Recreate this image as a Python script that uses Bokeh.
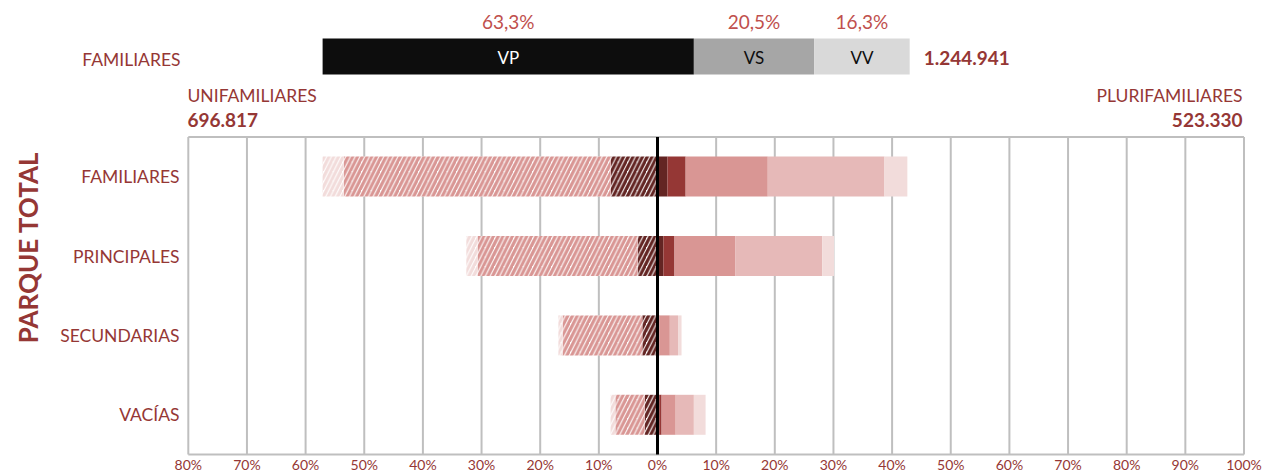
import numpy as np
from bokeh.plotting import figure
from bokeh.core.properties import value
from bokeh.embed import file_html
from bokeh.resources import INLINE

# ---------------- data ----------------
categories = ["FAMILIARES", "PRINCIPALES", "SECUNDARIAS", "VACÍAS"]

# Unifamiliares (left side, % of familiares total), from the zero line outwards
uni_dark = [8.0, 3.4, 2.6, 2.2]
uni_mid = [45.5, 27.3, 13.6, 5.0]
uni_light = [3.6, 1.9, 0.7, 0.8]

# Plurifamiliares (right side), from the zero line outwards
pluri_s1 = [1.7, 1.0, 0.0, 0.3]
pluri_s2 = [3.1, 1.9, 0.3, 0.4]
pluri_s3 = [14.0, 10.4, 1.8, 2.4]
pluri_s4 = [19.9, 14.8, 1.4, 3.1]
pluri_s5 = [3.9, 2.0, 0.6, 2.0]

top_labels = ["VP", "VS", "VV"]
top_shares = [63.3, 20.5, 16.3]
top_share_text = ["63,3%", "20,5%", "16,3%"]
total_familiares = "1.244.941"
total_uni = "696.817"
total_pluri = "523.330"

tick_values = list(range(-80, 101, 10))
tick_labels = [f"{abs(t)}%" for t in tick_values]

# ---------------- layout ----------------
W, H = 1268, 472
PX_PER_PCT = 5.865
ZERO_PX = 657
ROW_PX = 79.4
FRAME_BOTTOM_PX = 454
x0 = -ZERO_PX / PX_PER_PCT
x1 = x0 + W / PX_PER_PCT
y0 = -0.5 - (H - FRAME_BOTTOM_PX) / ROW_PX
y1 = y0 + H / ROW_PX


def dx(px):
    return x0 + px / PX_PER_PCT


def dy(py):
    return y1 - py / ROW_PX


RED = "#953735"
LIGHT_RED = "#c0504d"
FONT = value("Lato")
LBL = "17.5px"
NUM = "19px"

p = figure(width=W, height=H, x_range=(x0, x1), y_range=(y0, y1),
           output_backend="svg", toolbar_location=None,
           x_axis_location=None, y_axis_location=None,
           min_border_left=0, min_border_right=0, min_border_top=0,
           min_border_bottom=0)
p.outline_line_color = None
p.grid.visible = False
p.background_fill_color = "white"

n = len(categories)
ys = [n - 1 - i for i in range(n)]
bar_h = 40 / ROW_PX

# grid lines and frame
p.segment(x0=tick_values, y0=[-0.5] * len(tick_values), x1=tick_values,
          y1=[n - 0.5] * len(tick_values), line_color="#bfbfbf", line_width=2)
p.segment(x0=[-80, -80], y0=[-0.5, n - 0.5], x1=[100, 100], y1=[-0.5, n - 0.5],
          line_color="#bfbfbf", line_width=2)

# x tick labels (absolute percentages on both sides of zero)
p.text(x=tick_values, y=[dy(464)] * len(tick_values), text=tick_labels,
       text_color=RED, text_font=FONT, text_font_size="14px",
       text_align="center", text_baseline="middle")

# left stacked (hatched)
left_series = [(uni_dark, "#632523"), (uni_mid, "#d99694"), (uni_light, "#f2dcdb")]
cum = np.zeros(n)
for vals, col in left_series:
    v = np.array(vals)
    p.hbar(y=ys, left=-(cum + v), right=-cum, height=bar_h, fill_color="white",
           line_color=None, hatch_pattern="/", hatch_color=col,
           hatch_weight=3.2, hatch_scale=9.5)
    cum = cum + v
uni_total_fam = cum[0]

# right stacked
right_series = [(pluri_s1, "#632523"), (pluri_s2, "#953735"), (pluri_s3, "#d99694"),
                (pluri_s4, "#e6b9b8"), (pluri_s5, "#f2dcdb")]
cum = np.zeros(n)
for vals, col in right_series:
    v = np.array(vals)
    p.hbar(y=ys, left=cum, right=cum + v, height=bar_h, fill_color=col, line_color=None)
    cum = cum + v

# zero line
p.segment(x0=[0], y0=[-0.5], x1=[0], y1=[n - 0.5], line_color="black", line_width=3)

# top composition bar
ty = dy(56)
starts = -uni_total_fam + np.concatenate([[0], np.cumsum(top_shares)[:-1]])
ends = starts + np.array(top_shares)
mids = (starts + ends) / 2
p.hbar(y=[ty] * 3, left=starts, right=ends, height=36 / ROW_PX,
       fill_color=["#0d0d0d", "#a6a6a6", "#d9d9d9"], line_color=None)
p.text(x=mids, y=[dy(57)] * 3, text=top_labels, text_color=["white", "#0d0d0d", "#0d0d0d"],
       text_font=FONT, text_font_size="17px", text_align="center", text_baseline="middle")
p.text(x=mids, y=[dy(21)] * 3, text=top_share_text, text_color=LIGHT_RED,
       text_font=FONT, text_font_size="19px", text_align="center", text_baseline="middle")
p.text(x=[ends[-1] + 14 / PX_PER_PCT], y=[dy(57)], text=[total_familiares], text_color=RED,
       text_font=FONT, text_font_size=NUM, text_font_style="bold",
       text_align="left", text_baseline="middle")
p.text(x=[dx(180)], y=[dy(59)], text=["FAMILIARES"], text_color=RED, text_font=FONT,
       text_font_size=LBL, text_align="right", text_baseline="middle")

# side headers
p.text(x=[dx(187)], y=[dy(95)], text=["UNIFAMILIARES"], text_color=RED, text_font=FONT,
       text_font_size=LBL, text_align="left", text_baseline="middle")
p.text(x=[dx(187)], y=[dy(119)], text=[total_uni], text_color=RED, text_font=FONT,
       text_font_size=NUM, text_font_style="bold", text_align="left", text_baseline="middle")
p.text(x=[dx(1242)], y=[dy(95)], text=["PLURIFAMILIARES"], text_color=RED, text_font=FONT,
       text_font_size=LBL, text_align="right", text_baseline="middle")
p.text(x=[dx(1242)], y=[dy(119)], text=[total_pluri], text_color=RED, text_font=FONT,
       text_font_size=NUM, text_font_style="bold", text_align="right", text_baseline="middle")

# category labels
p.text(x=[dx(179)] * n, y=ys, text=categories, text_color=RED, text_font=FONT,
       text_font_size=LBL, text_align="right", text_baseline="middle")

# vertical title
p.text(x=[dx(27)], y=[dy(247)], text=["PARQUE TOTAL"], angle=np.pi / 2, text_color=RED,
       text_font=FONT, text_font_size="26px", text_font_style="bold",
       text_align="center", text_baseline="middle")

open("out.html", "w").write(file_html(p, INLINE))
